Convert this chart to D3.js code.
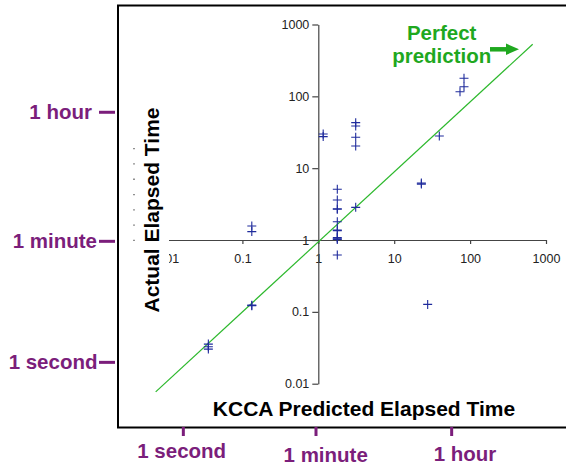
<!DOCTYPE html>
<html>
<head>
<meta charset="utf-8">
<script src="https://cdn.jsdelivr.net/npm/d3@7/dist/d3.min.js"></script>
<style>
  html, body { margin: 0; padding: 0; background: #fff; }
  svg { display: block; font-family: "Liberation Sans", Arial, Helvetica, sans-serif; }
</style>
</head>
<body>
<svg id="chart" width="566" height="466"></svg>
<script>
// ---- data (minutes) ----
const tickValues = [0.01, 0.1, 1, 10, 100, 1000];
const tickLabels = ["0.01", "0.1", "1", "10", "100", "1000"];
const predicted = [
  1.16, 1.16,
  3.11, 3.11, 3.11, 3.11, 3.11,
  1.78, 1.78, 1.78, 1.78, 1.78, 1.78, 1.78, 1.78, 1.78, 1.78, 1.78,
  22.8, 22.8,
  39.3,
  73.6, 83.1, 83.1,
  0.133, 0.133,
  0.133, 0.133,
  0.0356, 0.0356, 0.0356,
  27.6
];
const actual = [
  29.9, 27.5,
  43.0, 38.7, 26.9, 20.4, 2.85,
  5.08, 3.61, 2.68, 2.72, 1.80, 1.38, 1.35, 1.08, 1.04, 1.02, 0.618,
  6.0, 6.2,
  28.1,
  116, 136, 179,
  1.57, 1.31,
  0.122, 0.124,
  0.0356, 0.0327, 0.0303,
  0.127
];
const fitLine = [[0.0072, 0.0077], [668, 532]];
const timeLabels = ["1 second", "1 minute", "1 hour"];
const timeValues = [1 / 60, 1, 60];
const xTitle = "KCCA Predicted Elapsed Time";
const yTitle = "Actual Elapsed Time";
const legendLines = ["Perfect", "prediction"];

// ---- layout ----
const svg = d3.select("#chart");
const x = d3.scaleLog().domain([0.01, 1000]).range([166.5, 546]);
const y = d3.scaleLog().domain([0.01, 1000]).range([383.7, 24.5]);
const purple = "#7b1e7b";
const green = "#1fa81f";
const lineGreen = "#2cb82c";
const blue = "#1f2b9c";
const axisColor = "#444";

// frame
svg.append("rect").attr("x", 118).attr("y", 5.5).attr("width", 470).attr("height", 422)
  .attr("fill", "none").attr("stroke", "#000").attr("stroke-width", 2);

// axes
const fmt = d => tickLabels[tickValues.indexOf(d)];
const gx = svg.append("g").attr("transform", `translate(0,${y(1)})`)
  .call(d3.axisBottom(x).tickValues(tickValues).tickFormat(fmt).tickSize(4).tickSizeOuter(0).tickPadding(10));
const gy = svg.append("g").attr("transform", `translate(${x(1)},0)`)
  .call(d3.axisLeft(y).tickValues(tickValues).tickFormat(fmt).tickSize(6).tickSizeOuter(0).tickPadding(3));
[gx, gy].forEach(g => {
  g.select(".domain").attr("stroke", axisColor).attr("stroke-width", 1.2);
  g.selectAll(".tick line").attr("stroke", axisColor).attr("stroke-width", 1.2);
  g.selectAll(".tick text").attr("fill", "#222").style("font-size", "12.5px")
    .style("font-family", "'Liberation Sans', Arial, sans-serif");
});

// perfect prediction line
svg.append("path").datum(fitLine)
  .attr("d", d3.line().x(d => x(d[0])).y(d => y(d[1])))
  .attr("stroke", lineGreen).attr("stroke-width", 1.2).attr("fill", "none");

// points (plus markers)
const pts = predicted.map((p, i) => [p, actual[i]]);
const plus = d3.symbol().type(d3.symbolCross);
const s = 4.5;
const pg = svg.append("g");
pts.forEach(d => {
  const cx = x(d[0]), cy = y(d[1]);
  pg.append("path")
    .attr("d", `M${cx - s},${cy}H${cx + s}M${cx},${cy - s}V${cy + s}`)
    .attr("stroke", blue).attr("stroke-width", 1.1).attr("fill", "none");
});

// y title with white background
svg.append("rect").attr("x", 138).attr("y", 100).attr("width", 31).attr("height", 222).attr("fill", "#fff");
svg.append("line").attr("x1", 134).attr("x2", 134).attr("y1", 148).attr("y2", 250)
  .attr("stroke", "#555").attr("stroke-width", 1.3).attr("stroke-dasharray", "1.3,14");
svg.append("text")
  .attr("transform", `translate(159,210) rotate(-90)`)
  .attr("text-anchor", "middle").attr("font-weight", "bold").attr("font-size", 21)
  .attr("fill", "#000").text(yTitle);

// x title
svg.append("text").attr("x", 364).attr("y", 416)
  .attr("text-anchor", "middle").attr("font-weight", "bold").attr("font-size", 21)
  .attr("fill", "#000").text(xTitle);

// legend annotation
svg.append("text").attr("x", 441.7).attr("y", 39.5).attr("text-anchor", "middle")
  .attr("font-weight", "bold").attr("font-size", 20.5).attr("fill", green).text(legendLines[0]);
svg.append("text").attr("x", 441.7).attr("y", 63).attr("text-anchor", "middle")
  .attr("font-weight", "bold").attr("font-size", 20.5).attr("fill", green).text(legendLines[1]);
svg.append("line").attr("x1", 490).attr("x2", 509).attr("y1", 49.3).attr("y2", 49.3)
  .attr("stroke", green).attr("stroke-width", 4.5);
svg.append("path").attr("d", "M506,43.5L519,49.3L506,55Z").attr("fill", green);

// left time annotations
const leftNudge = [-5.4, 1.3, 0];
const leftEnd = [97.5, 97, 92];
timeValues.forEach((v, i) => {
  const yy = y(v) + leftNudge[i];
  svg.append("line").attr("x1", 99).attr("x2", 115).attr("y1", yy).attr("y2", yy)
    .attr("stroke", purple).attr("stroke-width", 3);
  svg.append("text").attr("x", leftEnd[i]).attr("y", yy + 7).attr("text-anchor", "end")
    .attr("font-weight", "bold").attr("font-size", 20.5).attr("fill", purple).text(timeLabels[i]);
});

// bottom time annotations
const botNudge = [0, -2.3, -1.6];
const botBase = [457.5, 461.5, 461];
const botCenter = [181.7, 325.7, 465];
timeValues.forEach((v, i) => {
  const xx = x(v) + botNudge[i];
  svg.append("line").attr("x1", xx).attr("x2", xx).attr("y1", 427).attr("y2", 436)
    .attr("stroke", purple).attr("stroke-width", 3);
  svg.append("text").attr("x", botCenter[i]).attr("y", botBase[i]).attr("text-anchor", "middle")
    .attr("font-weight", "bold").attr("font-size", 20.5).attr("fill", purple).text(timeLabels[i]);
});
</script>
</body>
</html>
